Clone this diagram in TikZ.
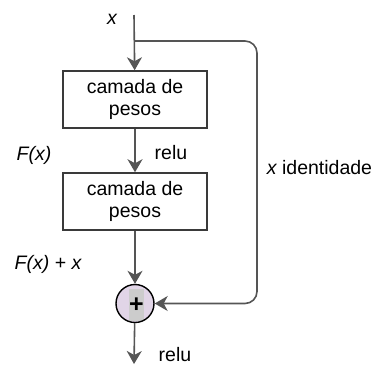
\documentclass[tikz,border=0pt]{standalone}
\usepackage{fontspec}
\setmainfont{Liberation Sans}
\usetikzlibrary{arrows.meta}
\definecolor{linegray}{HTML}{555555}
\definecolor{boxgray}{HTML}{3A3A3A}
\definecolor{sumfill}{HTML}{E1D5E7}
\definecolor{plusback}{HTML}{CCCCCC}
\begin{document}
\begin{tikzpicture}[x=1pt,y=-1pt,
  every node/.style={font=\fontsize{19.5}{22.5}\selectfont, text=black},
  layer/.style={draw=boxgray, line width=1.5pt, fill=white, minimum width=144pt,
    minimum height=57pt, align=center, inner sep=0pt},
  conn/.style={draw=linegray, line width=1.6pt},
  arr/.style={conn, -{Stealth[length=13pt,width=15pt,inset=4pt]}},
  lbl/.style={inner sep=0pt},
  sumnode/.style={circle, line width=1.4pt, minimum size=38pt, inner sep=0pt}]
  \useasboundingbox (0,0) rectangle (372,365);

  % input, layers and sum
  \coordinate (in) at (134,15);
  \coordinate (branch) at (134,41);
  \node[layer] (l1) at (135,99.5) {camada de\\pesos};
  \node[layer] (l2) at (135,201.5) {camada de\\pesos};
  \node[sumnode, fill=sumfill] (sum) at (135,303.5) {};
  \node[fill=plusback, minimum width=14pt, minimum height=32pt, inner sep=0pt,
    font=\fontsize{25}{25}\selectfont\bfseries] (plus) at (136.5,305) {+};
  \node[sumnode, draw=black] (ring) at (sum) {};
  \coordinate (out) at (134,364);

  % main path
  \draw[arr] (in) -- (l1);
  \draw[arr] (l1) -- (l2);
  \draw[arr] (l2) -- (sum);
  \draw[arr] (sum) -- (out);

  % identity shortcut
  \draw[arr, rounded corners=12pt] (branch) -- (257,41) -- (257,303.5) -- (sum.east);

  % labels
  \node[lbl] (lx) at (112,19) {\itshape x};
  \node[lbl] (lf) at (34,155) {\itshape F(x)};
  \node[lbl] (lr1) at (171,153) {relu};
  \node[lbl] (lid) at (319.5,168) {\itshape x\upshape\ identidade};
  \node[lbl] (lfx) at (48,264) {\itshape F(x) + x};
  \node[lbl] (lr2) at (175,355) {relu};
\end{tikzpicture}
\end{document}
